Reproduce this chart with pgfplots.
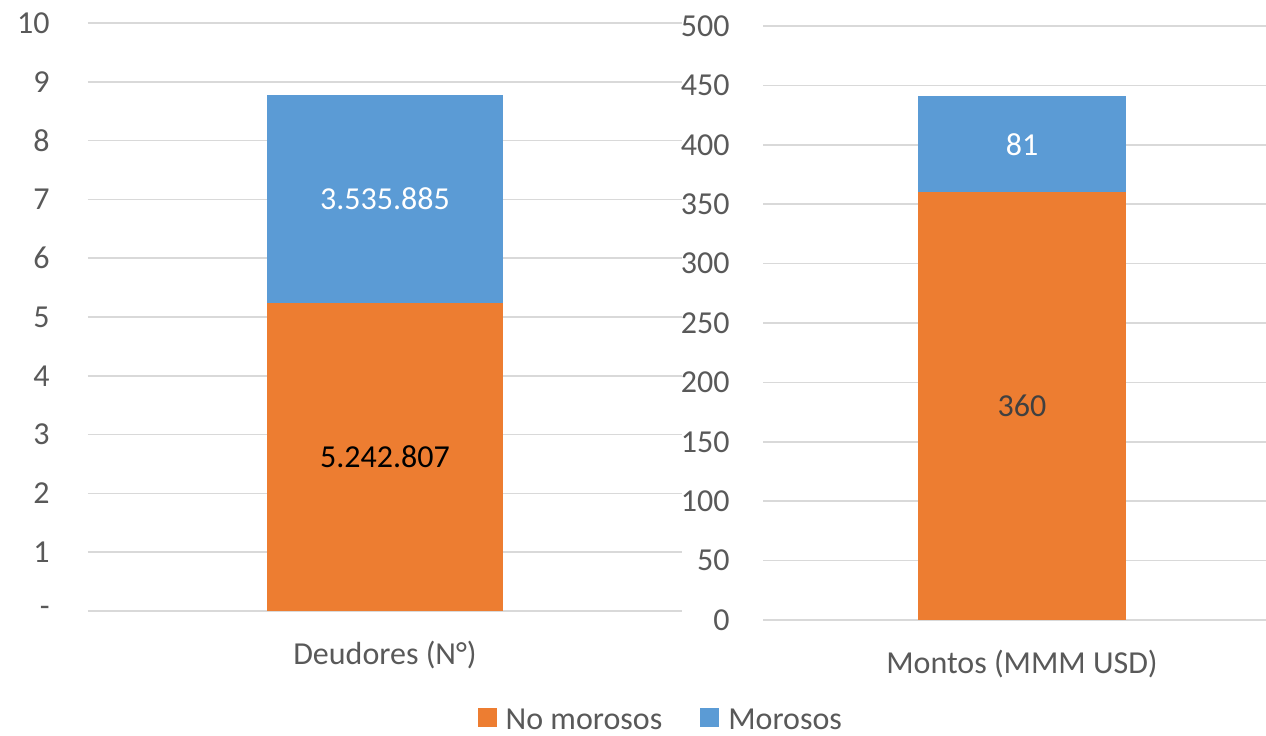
\documentclass[border=0pt]{standalone}
\usepackage{fontspec}
\setmainfont{Carlito}
\usepackage{pgfplots}
\pgfplotsset{compat=1.18}
\definecolor{naranja}{HTML}{ED7D31}
\definecolor{azul}{HTML}{5B9BD5}
\definecolor{rejilla}{HTML}{D9D9D9}
\definecolor{texto}{HTML}{595959}
\definecolor{oscuro}{HTML}{404040}
\newcommand{\fs}{\fontsize{16}{19.2}\selectfont}

\pgfplotsset{excel/.style={
    scale only axis, ybar stacked, enlargelimits=false,
    axis line style={draw=none}, tick style={draw=none}, major tick length=0pt,
    ymajorgrids, grid style={rejilla, line width=0.75pt},
    xtick={0},
    ticklabel style={font=\fs, text=texto},
    yticklabel style={anchor=east, inner sep=0pt},
    xticklabel style={anchor=center, yshift=-22pt},
    /pgf/number format/assume math mode=true,
}}

\begin{document}
\begin{tikzpicture}
\useasboundingbox (0,0) rectangle (633pt,367.5pt);

% Deudores
\begin{axis}[excel,
    at={(44pt,62pt)}, anchor=south west,
    width=297pt, height=294pt,
    xmin=-297, xmax=297, ymin=0, ymax=10,
    bar width=118pt,
    ytick={0,1,...,10},
    yticklabels={-,1,2,3,4,5,6,7,8,9,10},
    yticklabel style={xshift=-19pt},
    xticklabels={Deudores (N°)},
    legend columns=2,
    legend style={at={(axis description cs:0.966,-0.186)}, anchor=center,
        draw=none, font=\fs, text=texto, inner sep=1pt,
        /tikz/every even column/.append style={column sep=17pt}},
    legend image code/.code={\fill[#1] (0pt,-3.5pt) rectangle (9.5pt,6pt); \path (12pt,0pt);},
]
\addplot[fill=naranja, draw=none] coordinates {(0,5.242807)};
\addplot[fill=azul, draw=none] coordinates {(0,3.535885)};
\addlegendentry{No morosos}
\addlegendentry{Morosos}
\coordinate (d1) at (axis cs:0,2.6214);
\coordinate (d2) at (axis cs:0,7.0103);
\end{axis}
\node[font=\fs, text=black] at (d1) {5.242.807};
\node[font=\fs, text=white] at (d2) {3.535.885};

% Montos
\begin{axis}[excel,
    at={(381.5pt,57.5pt)}, anchor=south west,
    width=251.5pt, height=297pt,
    xmin=-259, xmax=244, ymin=0, ymax=500,
    bar width=104pt,
    ytick={0,50,...,500},
    yticklabels={0,50,100,150,200,250,300,350,400,450,500},
    yticklabel style={xshift=-16.5pt},
    xticklabels={Montos (MMM USD)},
]
\addplot[fill=naranja, draw=none] coordinates {(0,360)};
\addplot[fill=azul, draw=none] coordinates {(0,81)};
\coordinate (m1) at (axis cs:0,180);
\coordinate (m2) at (axis cs:0,400.5);
\end{axis}
\node[font=\fs, text=oscuro] at (m1) {360};
\node[font=\fs, text=white] at (m2) {81};
\end{tikzpicture}
\end{document}
